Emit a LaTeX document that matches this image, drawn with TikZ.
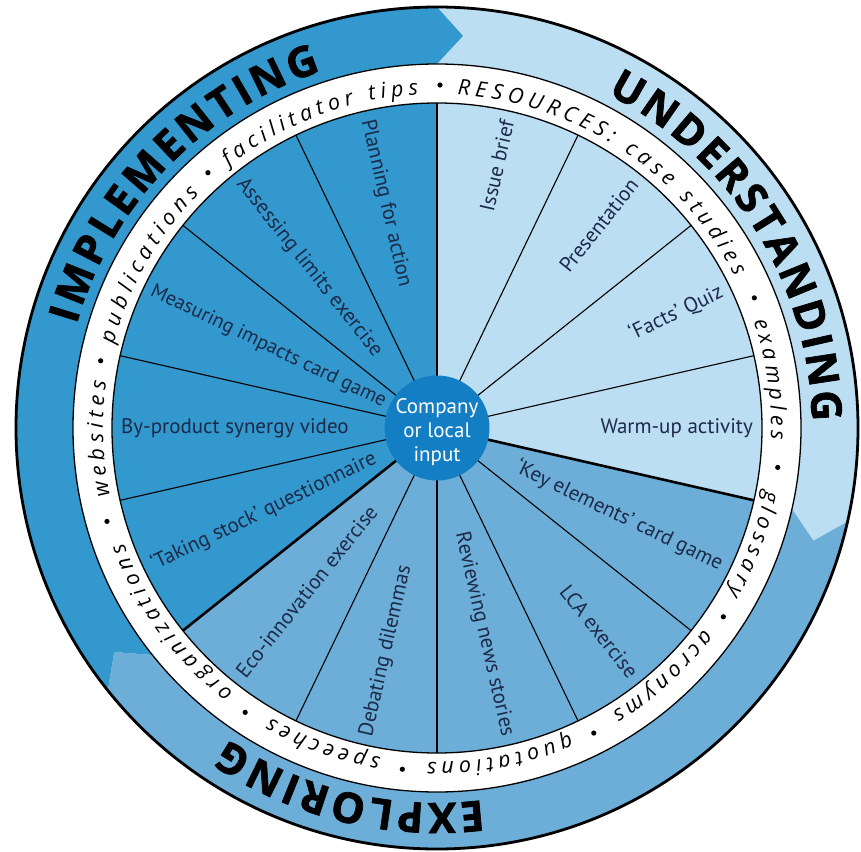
\documentclass[tikz,border=0pt]{standalone}
\usepackage{fontspec}
\setmainfont{PT Sans}
\newfontfamily\ringfont{Open Sans}
\newfontfamily\bandfont{Open Sans}[BoldFeatures={FakeBold=1.6}]
\usetikzlibrary{decorations.text}
\definecolor{impl}{RGB}{50,152,205}
\definecolor{unde}{RGB}{188,222,242}
\definecolor{expl}{RGB}{108,174,216}
\definecolor{hubc}{RGB}{20,126,196}
\definecolor{labelc}{RGB}{28,42,72}
\newcommand\ringword[3]{\path[decorate,decoration={text along path,
  text={|\ringfont\itshape\fontsize{21.5}{21.5}\selectfont|#3}, text align=fit to path}]
  (#1:334pt) arc[start angle=#1, end angle=#2, radius=334pt];}
\newcommand\bandword[3]{\path[decorate,decoration={text along path,
  text={|\bandfont\bfseries\fontsize{42}{42}\selectfont|#3}, text align=fit to path}]
  (#1:375pt) arc[start angle=#1, end angle=#2, radius=375pt];}
\tikzset{
  lab/.style={font=\fontsize{21}{21}\selectfont, text=labelc, inner sep=0pt},
  divider/.style={draw=black, line width=1.1pt},
  thickdivider/.style={draw=black, line width=2.6pt},
  ringline/.style={draw=black, line width=1.3pt},
}
\begin{document}
\begin{tikzpicture}
\useasboundingbox (-437pt,-423pt) rectangle (424pt,428pt);
% outer bands
\fill[unde] (90:421pt) arc[start angle=90,end angle=-12.857,radius=421pt] -- (-16.66:393pt)
  -- (-12.857:364pt) arc[start angle=-12.857,end angle=90,radius=364pt] -- (86.2:393pt) -- cycle;
\fill[expl] (-12.857:421pt) arc[start angle=-12.857,end angle=-141.43,radius=421pt] -- (-145.23:393pt)
  -- (-141.43:364pt) arc[start angle=-141.43,end angle=-12.857,radius=364pt] -- (-16.66:393pt) -- cycle;
\fill[impl] (218.57:421pt) arc[start angle=218.57,end angle=90,radius=421pt] -- (86.2:393pt)
  -- (90:364pt) arc[start angle=90,end angle=218.57,radius=364pt] -- (214.77:393pt) -- cycle;
\draw[line width=2.8pt] (0,0) circle[radius=421pt];
% white ring
\draw[ringline, fill=white] (0,0) circle[radius=364pt];
% inner sectors
\fill[unde] (0,0) -- (90:325pt) arc[start angle=90,end angle=-12.857,radius=325pt] -- cycle;
\fill[expl] (0,0) -- (-12.857:325pt) arc[start angle=-12.857,end angle=-141.43,radius=325pt] -- cycle;
\fill[impl] (0,0) -- (-141.43:325pt) arc[start angle=-141.43,end angle=-270,radius=325pt] -- cycle;
\draw[ringline] (0,0) circle[radius=325pt];
\foreach \k in {1,2,3,5,6,7,8,10,11,12,13} \draw[divider] (0,0) -- ({90-\k*360/14}:325pt);
\foreach \k in {0,4,9} \draw[thickdivider] (0,0) -- ({90-\k*360/14}:325pt);
% sector labels
\foreach \k/\t in {0/Issue brief, 1/Presentation, 2/`Facts' Quiz, 3/Warm-up activity,
  4/`Key elements' card game, 5/LCA exercise, 6/Reviewing news stories}
  \node[lab, anchor=east, rotate={90-(\k+0.5)*360/14}] (lab\k) at ({90-(\k+0.5)*360/14}:316pt) {\t};
\foreach \k/\t in {7/Debating dilemmas, 8/Eco-innovation exercise, 9/`Taking stock' questionnaire,
  10/By-product synergy video, 12/Assessing limits exercise, 13/Planning for action}
  \node[lab, anchor=west, rotate={270-(\k+0.5)*360/14}] (lab\k) at ({90-(\k+0.5)*360/14}:316pt) {\t};
\node[lab, font=\fontsize{20.3}{20.3}\selectfont, anchor=west, rotate={270-11.5*360/14}] (lab11)
  at ({90-11.5*360/14}:317pt) {Measuring impacts card game};
% hub
\node[circle, fill=hubc, minimum size=105pt, inner sep=0pt] (hub) at (0,0) {};
\node[text=white, align=center, font=\fontsize{21}{24}\selectfont, inner sep=0pt]
  (hubtext) at (0,-4pt) {Company\\or local\\input};
% ring words
\ringword{86.5}{58.6}{RESOURCES:}
\ringword{56}{27}{case studies}
\ringword{18.6}{-2}{examples}
\ringword{-10.7}{-29.7}{glossary}
\ringword{-37}{-58.4}{acronyms}
\ringword{-66.6}{-91.7}{quotations}
\ringword{-99.7}{-119.9}{speeches}
\ringword{-127.6}{-159.8}{organizations}
\ringword{-168.3}{-188}{websites}
\ringword{165.5}{135.4}{publications}
\ringword{128.6}{93.2}{facilitator tips}
\foreach \a in {89.5,22.3,-6.6,-33.4,-62.8,-95.8,-124,-164.2,168.7,131.9}
  \fill (\a:343pt) circle[radius=2.6pt];
% band words
\bandword{63}{1}{UNDERSTANDING}
\bandword{164}{108}{IMPLEMENTING}
\bandword{-83}{-124}{EXPLORING}
\end{tikzpicture}
\end{document}
